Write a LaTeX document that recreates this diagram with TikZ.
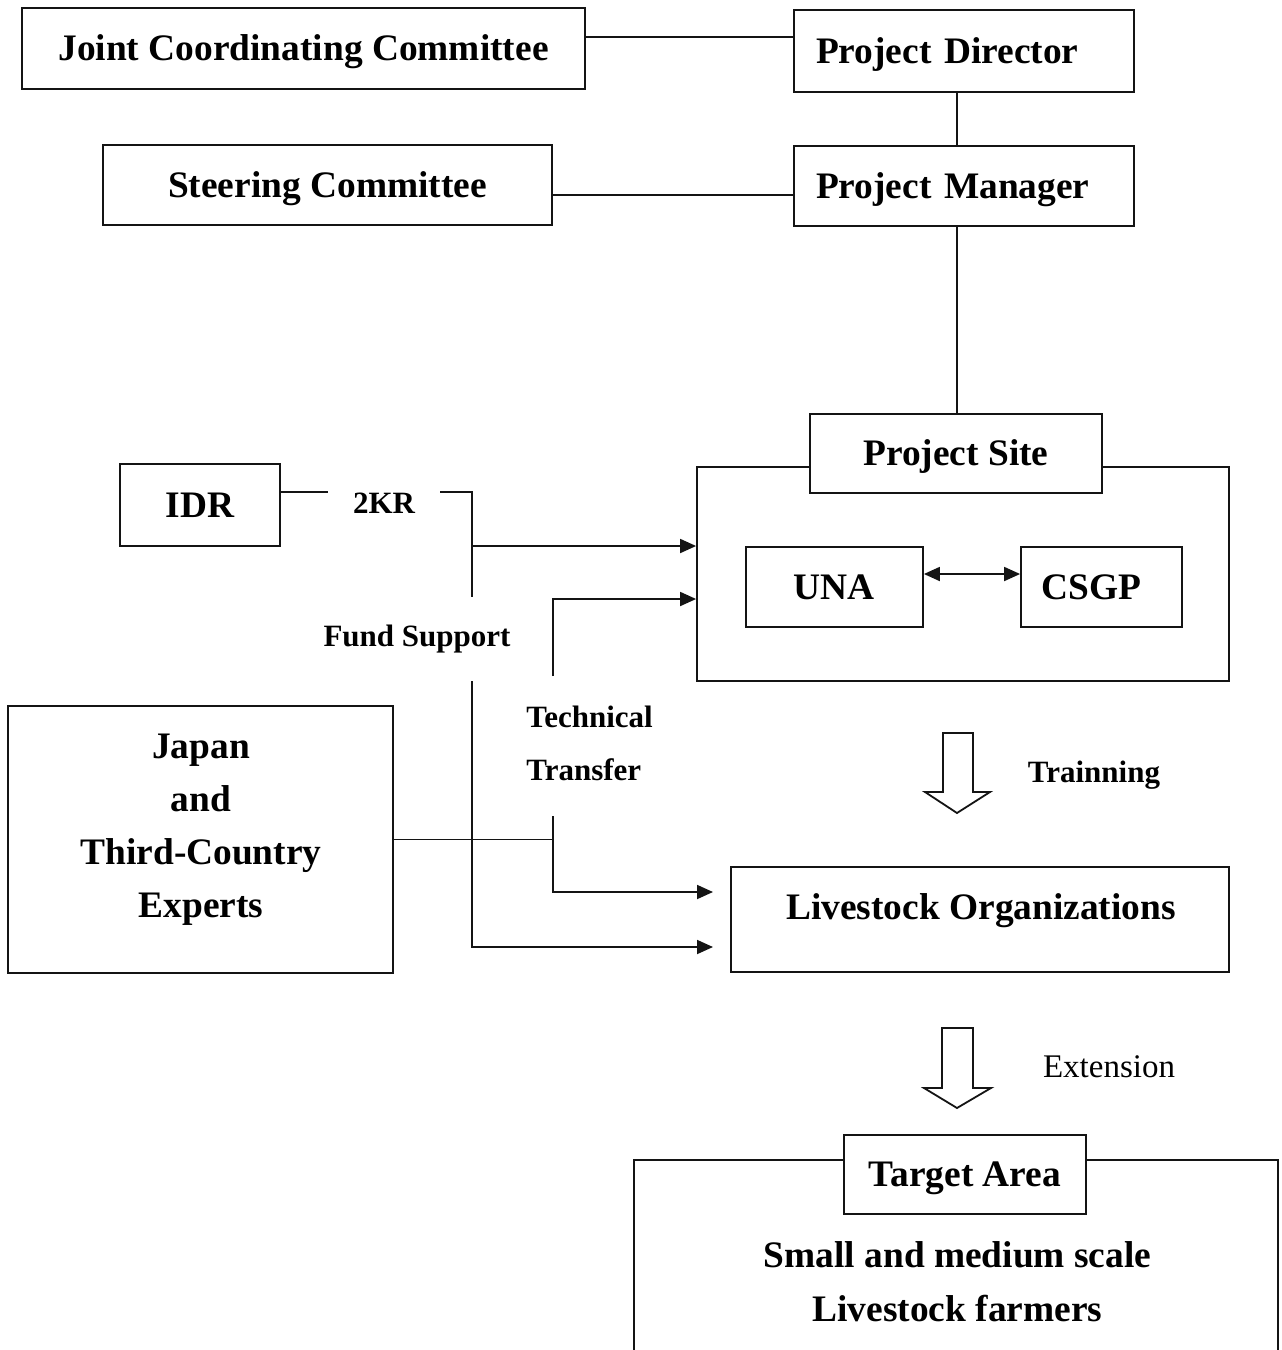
\documentclass[tikz,border=0pt]{standalone}
\usepackage{fontspec}
\setmainfont{Liberation Serif}
\usepackage{xcolor}
\usetikzlibrary{arrows.meta, positioning}
\definecolor{inkblack}{HTML}{141414}
\newcommand{\boxfont}{\fontsize{18.7}{22}\selectfont\bfseries}
\newcommand{\tagfont}{\fontsize{15.5}{18}\selectfont\bfseries}
\newcommand{\notefont}{\fontsize{16.5}{19}\selectfont}
\tikzset{
  orgbox/.style={draw=inkblack, line width=0.9pt, fill=white, inner sep=0pt, font=\boxfont, text height=14pt, text depth=1.6pt},
  leftbox/.style={orgbox, inner xsep=11pt, text width=148pt, align=left},
  boxtext/.style={inner sep=0pt, font=\boxfont, align=center},
  tag/.style={inner sep=0pt, font=\tagfont},
  link/.style={draw=inkblack, line width=0.9pt},
  flow/.style={link, -{Triangle[length=8pt,width=7pt]}},
  bigarrow/.style={draw=inkblack, line width=0.9pt, fill=white, line join=miter}
}

\begin{document}
\begin{tikzpicture}[x=0.5pt, y=-0.5pt]
        \useasboundingbox (0,0) rectangle (1281,1350);

        % Management boxes
        \node[orgbox, minimum width=281.5pt, minimum height=40.5pt] (jcc) at (303.5,48.5) {Joint Coordinating Committee};
        \node[leftbox, minimum height=41pt] (director) at (964,51) {Project Director};
        \node[orgbox, minimum width=224.5pt, minimum height=40pt] (steering) at (327.5,185) {Steering Committee};
        \node[leftbox, minimum height=40pt] (manager) at (964,186) {Project Manager};

        % Project site with its two partners
        \node[orgbox, minimum width=266pt, minimum height=107pt] (sitearea) at (963,574) {};
        \node[orgbox, minimum width=146pt, minimum height=39.5pt] (site) at (956,453.5) {Project Site};
        \node[orgbox, minimum width=88.5pt, minimum height=40pt] (una) at (834.5,587) {UNA};
        \node[orgbox, minimum width=80.5pt, minimum height=40pt] (csgp) at (1101.5,587) {};
        \node[boxtext, text height=14pt, text depth=1.6pt] (csgptext) at (1091.5,587) {CSGP};

        % Support side
        \node[orgbox, minimum width=80pt, minimum height=41pt] (idr) at (200,505) {IDR};
        \node[orgbox, minimum width=192.5pt, minimum height=133.5pt] (japan) at (200.5,839.5) {};
        \node[boxtext, font=\fontsize{18.7}{26.5}\selectfont\bfseries] (japantext) at (201,830) {Japan\\and\\Third-Country\\Experts};

        % Livestock organizations and target area
        \node[orgbox, minimum width=249pt, minimum height=52.5pt] (livestock) at (980,919.5) {};
        \node[boxtext, text height=14pt, text depth=1.6pt] (livetext) at (981,907) {Livestock Organizations};
        \node[orgbox, minimum width=121pt, minimum height=39.5pt] (target) at (965,1174.5) {Target Area};
        \node[boxtext, font=\fontsize{18.7}{27}\selectfont\bfseries] (farmers) at (957.5,1282) {Small and medium scale\\Livestock farmers};

        % Labels on the links
        \node[tag, inner xsep=12.5pt] (kr) at (384,503) {2KR};
        \node[tag] (fund) at (417,639) {Fund Support};
        \node[tag, anchor=west, align=left] (tech) at (526,743.5) {Technical\\[8.5pt]Transfer};
        \node[tag] (training) at (1094,775) {Trainning};
        \node[inner sep=0pt, font=\notefont] (extension) at (1109,1067) {Extension};

        % Helper coordinates
        \coordinate (topline) at (0,37);
        \coordinate (midline) at (0,195);
        \coordinate (spine) at (957,0);
        \coordinate (pair) at (0,574);
        \coordinate (krline) at (0,492);
        \coordinate (kronly) at (0,546);
        \coordinate (fundtop) at (472,597);
        \coordinate (fundbot) at (472,681);
        \coordinate (fundend) at (0,947);
        \coordinate (gap) at (713,0);
        \coordinate (techtop) at (553,816);
        \coordinate (techlow) at (0,892);
        \coordinate (techup) at (553,676);
        \coordinate (techin) at (0,599);
        \coordinate (farmtop) at (0,1160);

        % Management links
        \draw[link] (jcc.east |- topline) -- (director.west |- topline);
        \draw[link] (director.south -| spine) -- (manager.north -| spine);
        \draw[link] (steering.east |- midline) -- (manager.west |- midline);
        \draw[link] (manager.south -| spine) -- (site.north -| spine);
        \draw[link, {Triangle[length=8pt,width=7pt]}-{Triangle[length=8pt,width=7pt]}] (una.east |- pair) -- (csgp.west |- pair);

        % Fund support
        \draw[link] (idr.east |- krline) -- (kr.west |- krline);
        \draw[link] (kr.east |- krline) -- (krline -| fundtop) -- (fundtop);
        \draw[flow] (kronly -| fundtop) -- (kronly -| sitearea.west);
        \draw[flow] (fundbot) -- (fundbot |- fundend) -- (fundend -| gap);

        % Technical transfer
        \draw[link] (japan.east) -- (japan.east -| techtop);
        \draw[flow] (techtop) -- (techtop |- techlow) -- (techlow -| gap);
        \draw[flow] (techup) -- (techup |- techin) -- (techin -| sitearea.west);

        % Block arrows
        \draw[bigarrow] (943,733) -- (973,733) -- (973,792) -- (990,792) -- (957,813) -- (925,792) -- (943,792) -- cycle;
        \draw[bigarrow] (942,1028) -- (973,1028) -- (973,1088) -- (991,1088) -- (957,1108) -- (924,1088) -- (942,1088) -- cycle;

        % Target area frame, open at the bottom
        \draw[link] (634,1350) -- (634,1160) -- (farmtop -| target.west);
        \draw[link] (farmtop -| target.east) -- (1278,1160) -- (1278,1350);
    \end{tikzpicture}
\end{document}
